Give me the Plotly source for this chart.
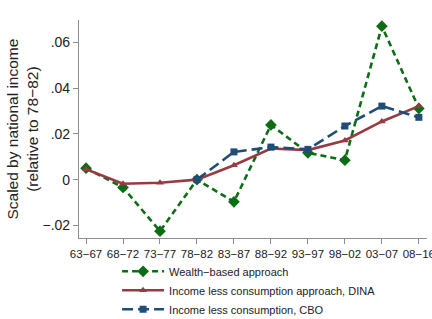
import plotly.graph_objects as go

periods = ["63−67", "68−72", "73−77", "78−82", "83−87", "88−92", "93−97", "98−02", "03−07", "08−16"]
wealth = [0.0050, -0.0034, -0.0225, 0.0000, -0.0097, 0.0239, 0.0117, 0.0085, 0.0670, 0.0311]
dina = [0.0045, -0.0018, -0.0014, 0.0000, 0.0063, 0.0136, 0.0129, 0.0171, 0.0254, 0.0321]
cbo = [None, None, None, 0.0000, 0.0121, 0.0142, 0.0132, 0.0234, 0.0321, 0.0272]
ytick_vals = [-0.02, 0, 0.02, 0.04, 0.06]
ytick_text = ["−.02", "0", ".02", ".04", ".06"]

GREEN = "#0b6e14"
RED = "#993a42"
BLUE = "#1f4d78"
FONT = "Liberation Sans, Arial, sans-serif"

fig = go.Figure()
fig.add_trace(go.Scatter(
    x=periods, y=wealth, name="Wealth−based approach", mode="lines+markers",
    line=dict(color=GREEN, width=2.6, dash="6px,4px"),
    marker=dict(symbol="diamond", size=9, color=GREEN)))
fig.add_trace(go.Scatter(
    x=periods, y=dina, name="Income less consumption approach, DINA", mode="lines+markers",
    line=dict(color=RED, width=2.6),
    marker=dict(symbol="triangle-up", size=7, color=RED)))
fig.add_trace(go.Scatter(
    x=periods, y=cbo, name="Income less consumption, CBO", mode="lines+markers",
    line=dict(color=BLUE, width=2.6, dash="11px,5px"),
    marker=dict(symbol="square", size=7, color=BLUE)))

fig.update_layout(
    width=432, height=319,
    margin=dict(l=79, r=5, t=20, b=81, autoexpand=False),
    paper_bgcolor="white", plot_bgcolor="white",
    font=dict(family=FONT, color="#222222"),
    showlegend=True,
    legend=dict(xref="container", yref="container", x=0.271, y=0.195,
                xanchor="left", yanchor="top",
                font=dict(size=11, family=FONT, color="#222222"),
                bgcolor="rgba(0,0,0,0)", tracegroupgap=0, itemwidth=42),
    xaxis=dict(range=[-0.19, 9.22], showgrid=False, zeroline=False,
               showline=True, linecolor="#8c8c8c", linewidth=1.2,
               ticks="outside", ticklen=5, tickcolor="#8c8c8c",
               tickfont=dict(size=11.5, family=FONT, color="#222222")),
    yaxis=dict(range=[-0.0255, 0.0697], showgrid=False, zeroline=False,
               showline=True, linecolor="#8c8c8c", linewidth=1.2,
               ticks="outside", ticklen=5, tickcolor="#8c8c8c",
               tickvals=ytick_vals, ticktext=ytick_text,
               tickfont=dict(size=14, family=FONT, color="#222222")),
    annotations=[dict(
        text="Scaled by national income<br>(relative to 78−82)",
        xref="paper", yref="paper", x=-0.165, y=0.5,
        xanchor="center", yanchor="middle", textangle=-90, showarrow=False,
        font=dict(size=15.5, family=FONT, color="#222222"))],
)

fig.write_html("out.html")
